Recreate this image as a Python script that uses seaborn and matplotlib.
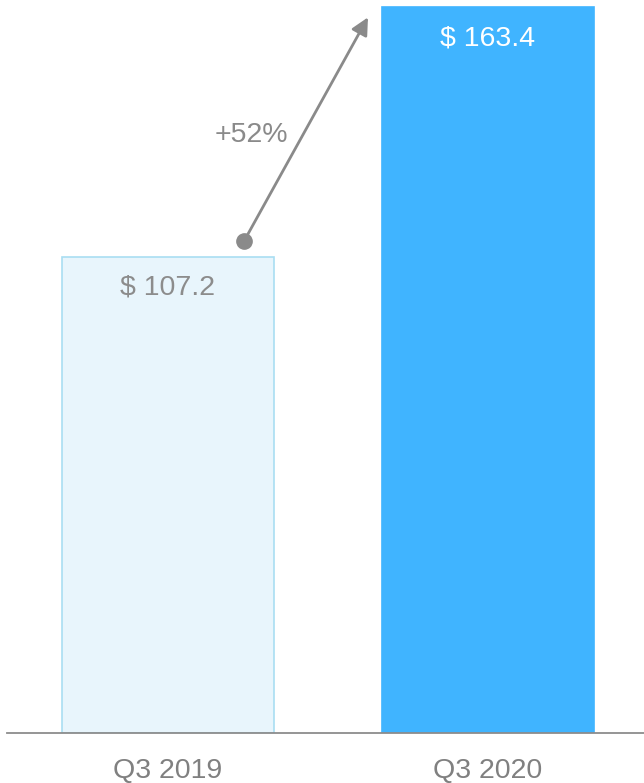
import matplotlib
matplotlib.use("Agg")
import matplotlib.pyplot as plt
import seaborn as sns
import pandas as pd

# Quarterly revenue (USD)
quarters = ["Q3 2019", "Q3 2020"]
revenue = [107.2, 163.4]
growth_label = "+52%"

bar_fill = ["#E8F5FC", "#40B4FF"]
bar_edge = ["#A9DEF2", "#40B4FF"]
label_color = ["#8C8C8C", "#FFFFFF"]
gray = "#8A8A8A"

sns.set_theme(style="white")
plt.rcParams["font.family"] = ["Liberation Sans", "DejaVu Sans"]

df = pd.DataFrame({"quarter": quarters, "revenue": revenue})

fig = plt.figure(figsize=(6.44, 7.83), dpi=100)
ax = fig.add_axes([0.0109, 0.0639, 0.9891, 0.9361])

sns.barplot(data=df, x="quarter", y="revenue", hue="quarter",
            palette=bar_fill, saturation=1, width=0.66, legend=False,
            ax=ax, linewidth=1.2)
for patch, ec in zip(ax.patches, bar_edge):
    patch.set_edgecolor(ec)

ax.set_xlim(-0.503, 1.4875)
ax.set_ylim(0, 165)

# value labels inside the top of each bar
for i, (v, c) in enumerate(zip(revenue, label_color)):
    ax.text(i, v - 7.0, f"$ {v:.1f}", ha="center", va="center",
            fontsize=20.5, color=c)

# growth arrow from the first bar to the second
x0, y0 = 0.2375, revenue[0] + 3.5
x1, y1 = 0.625, revenue[1] - 2.3
ax.annotate("", xy=(x1, y1), xytext=(x0, y0),
            arrowprops=dict(arrowstyle="-|>", color=gray, lw=2,
                            mutation_scale=26, shrinkA=0, shrinkB=0))
ax.plot([x0], [y0], "o", color=gray, markersize=11, zorder=5)
ax.text(0.262, 134.5, growth_label, ha="center", va="center",
        fontsize=20.5, color=gray)

for side in ["top", "right", "left"]:
    ax.spines[side].set_visible(False)
ax.spines["bottom"].set_color("#8C8C8C")
ax.spines["bottom"].set_linewidth(1.3)

ax.set_xlabel("")
ax.set_ylabel("")
ax.set_yticks([])
ax.tick_params(axis="x", length=0, pad=18, labelsize=20.5, labelcolor="#808080")

fig.savefig("out.png", dpi=100)
